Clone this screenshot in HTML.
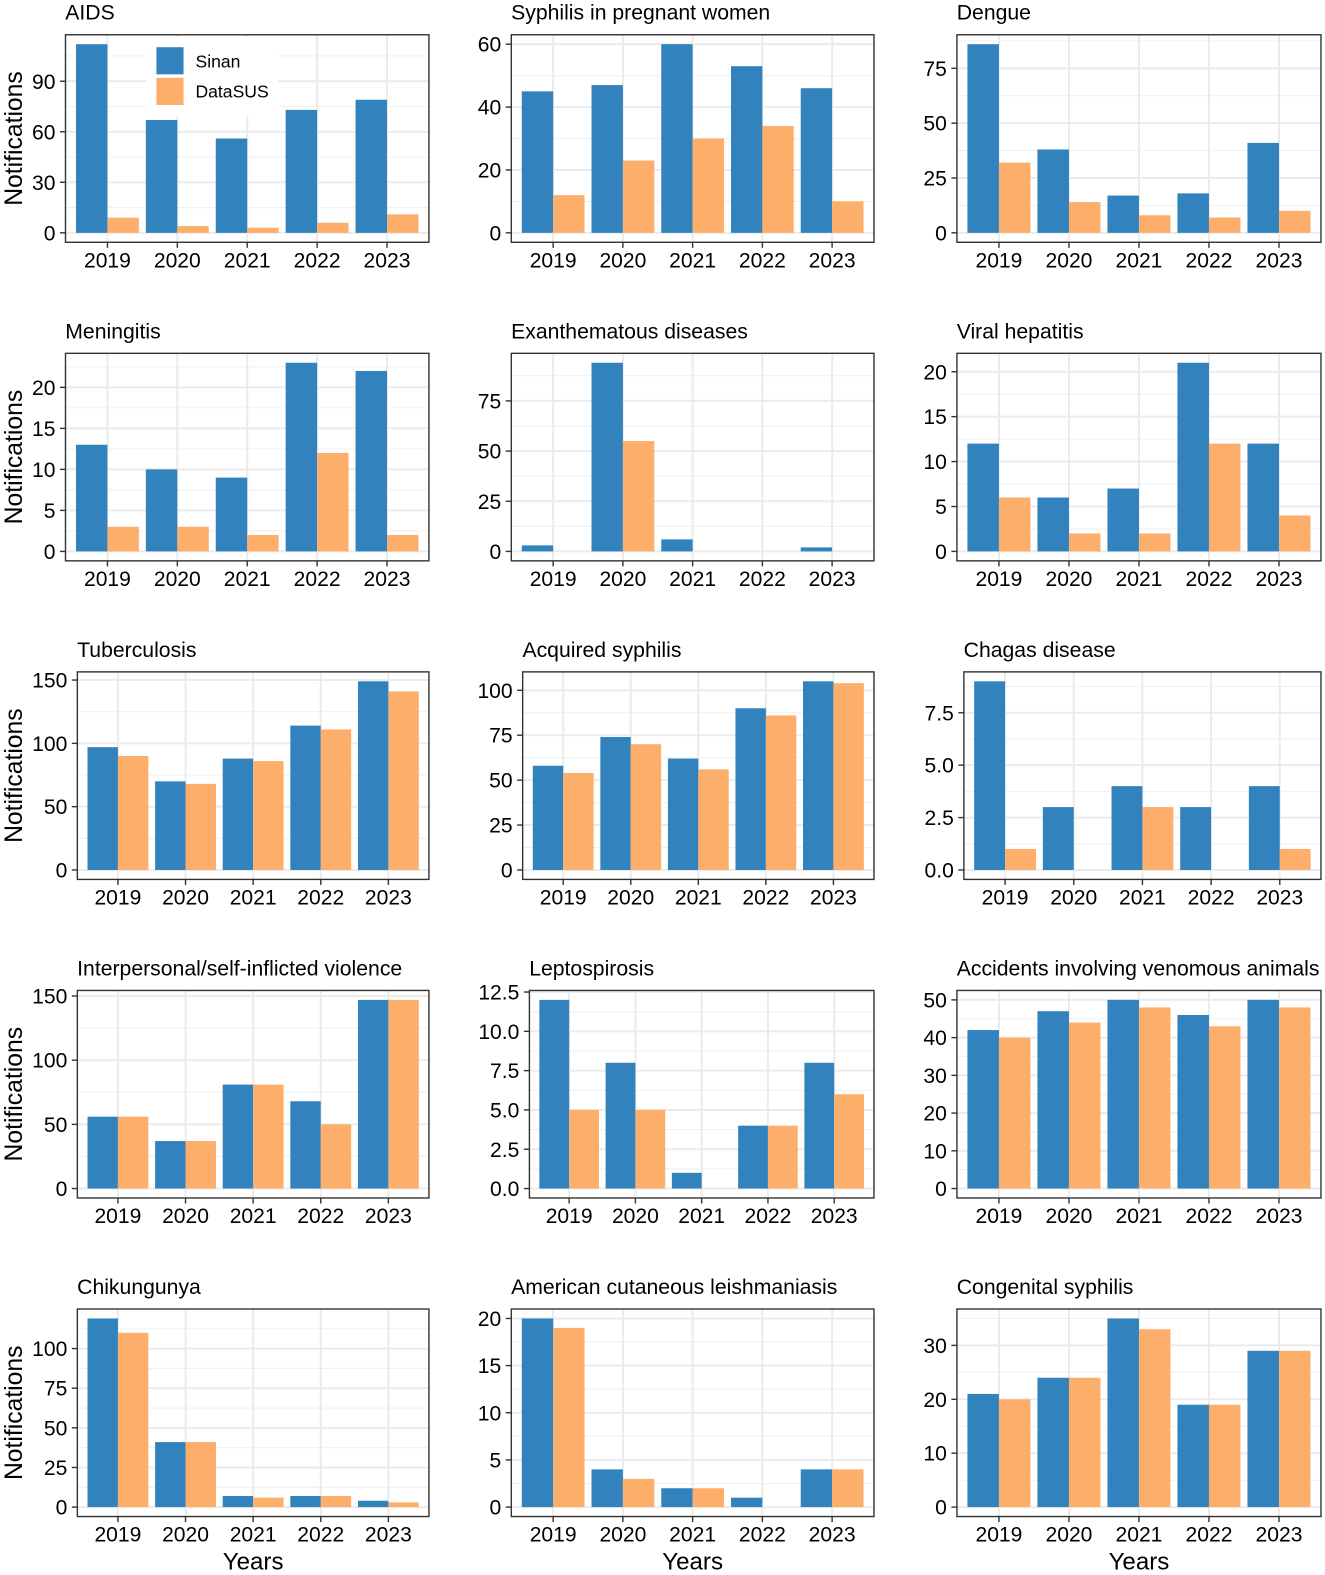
<!DOCTYPE html>
<html lang="en">
<head>
<meta charset="utf-8">
<title>Notifications by disease, Sinan vs DataSUS</title>
<style>
html,body{margin:0;padding:0;background:#fff;width:1325px;height:1575px;overflow:hidden}
svg{display:block}
text{font-family:"Liberation Sans",Arial,sans-serif;fill:#000}
</style>
</head>
<body>
<svg id="chart" xmlns="http://www.w3.org/2000/svg" width="1325" height="1575" viewBox="0 0 1319 1568" preserveAspectRatio="none"></svg>
<script>
const categories = ['2019','2020','2021','2022','2023'];

const aidsSinan = [112,67,56,73,79];
const aidsDatasus = [9,4,3,6,11];
const aidsTicks = ['0','30','60','90'];

const syphilisPregnantSinan = [45,47,60,53,46];
const syphilisPregnantDatasus = [12,23,30,34,10];
const syphilisPregnantTicks = ['0','20','40','60'];

const dengueSinan = [86,38,17,18,41];
const dengueDatasus = [32,14,8,7,10];
const dengueTicks = ['0','25','50','75'];

const meningitisSinan = [13,10,9,23,22];
const meningitisDatasus = [3,3,2,12,2];
const meningitisTicks = ['0','5','10','15','20'];

const exanthematousSinan = [3,94,6,0,2];
const exanthematousDatasus = [0,55,0,0,0];
const exanthematousTicks = ['0','25','50','75'];

const hepatitisSinan = [12,6,7,21,12];
const hepatitisDatasus = [6,2,2,12,4];
const hepatitisTicks = ['0','5','10','15','20'];

const tuberculosisSinan = [97,70,88,114,149];
const tuberculosisDatasus = [90,68,86,111,141];
const tuberculosisTicks = ['0','50','100','150'];

const acquiredSinan = [58,74,62,90,105];
const acquiredDatasus = [54,70,56,86,104];
const acquiredTicks = ['0','25','50','75','100'];

const chagasSinan = [9,3,4,3,4];
const chagasDatasus = [1,0,3,0,1];
const chagasTicks = ['0.0','2.5','5.0','7.5'];

const violenceSinan = [56,37,81,68,147];
const violenceDatasus = [56,37,81,50,147];
const violenceTicks = ['0','50','100','150'];

const leptospirosisSinan = [12,8,1,4,8];
const leptospirosisDatasus = [5,5,0,4,6];
const leptospirosisTicks = ['0.0','2.5','5.0','7.5','10.0','12.5'];

const venomousSinan = [42,47,50,46,50];
const venomousDatasus = [40,44,48,43,48];
const venomousTicks = ['0','10','20','30','40','50'];

const chikungunyaSinan = [119,41,7,7,4];
const chikungunyaDatasus = [110,41,6,7,3];
const chikungunyaTicks = ['0','25','50','75','100'];

const leishmaniasisSinan = [20,4,2,1,4];
const leishmaniasisDatasus = [19,3,2,0,4];
const leishmaniasisTicks = ['0','5','10','15','20'];

const congenitalSinan = [21,24,35,19,29];
const congenitalDatasus = [20,24,33,19,29];
const congenitalTicks = ['0','10','20','30'];

const svg = document.getElementById('chart');
const NS = 'http://www.w3.org/2000/svg';
const BLUE = '#3182bd';
const ORANGE = '#fdae6b';
const GRID = '#ebebeb';
const INK = '#333333';
const PANEL_RIGHT = [427, 870, 1315];
const TOP0 = 34.6, PANEL_H = 206.6, ROW_STEP = 317.15;

function make(tag, attrs, parent) {
  const el = document.createElementNS(NS, tag);
  for (const k in attrs) el.setAttribute(k, attrs[k]);
  (parent || svg).appendChild(el);
  return el;
}
function slug(s) {
  return s.toLowerCase().replace(/[^a-z0-9]+/g, '-').replace(/^-|-$/g, '');
}

function drawPanel(p) {
  const key = slug(p.title);
  const g = make('g', {});
  
  

  const x0 = p.left, x1 = PANEL_RIGHT[p.col];
  const y0 = TOP0 + p.row * ROW_STEP, y1 = y0 + PANEL_H;
  const w = x1 - x0, h = y1 - y0;

  // axis functions: ggplot-like discrete x (0.6 expansion), continuous y (5% expansion)
  const unit = w / (categories.length - 1 + 1.2);
  const xPos = i => x0 + (i + 0.6) * unit;
  const maxV = Math.max(...p.sinan, ...p.datasus);
  const yPos = v => y1 - (v + 0.05 * maxV) / (1.1 * maxV) * h;
  const barW = 0.45 * unit;

  // title
  const title = make('text', {x: x0 - 0.2, y: y0 - 15, 'font-size': 21.1}, g);
  
  
  title.textContent = p.title;

  // background grid
  const tickVals = p.ticks.map(Number);
  const step = tickVals[1] - tickVals[0];
  const minors = tickVals.map(t => t + step / 2);
  minors.unshift(tickVals[0] - step / 2);
  minors.forEach(m => {
    const y = yPos(m);
    if (y < y0 || y > y1) return;
    const l = make('line', {x1: x0, x2: x1, y1: y, y2: y, stroke: '#f0f0f0', 'stroke-width': 1.1}, g);
    
    
  });
  tickVals.forEach(t => {
    const l = make('line', {x1: x0, x2: x1, y1: yPos(t), y2: yPos(t), stroke: GRID, 'stroke-width': 2}, g);
    
    
  });
  categories.forEach((c, i) => {
    const l = make('line', {x1: xPos(i), x2: xPos(i), y1: y0, y2: y1, stroke: GRID, 'stroke-width': 2}, g);
    
    
  });

  // bars
  categories.forEach((c, i) => {
    const vs = p.sinan[i], vd = p.datasus[i];
    const a = make('rect', {x: xPos(i) - barW, y: yPos(vs), width: barW, height: Math.max(0, yPos(0) - yPos(vs)), fill: BLUE}, g);
    
    
    const b = make('rect', {x: xPos(i), y: yPos(vd), width: barW, height: Math.max(0, yPos(0) - yPos(vd)), fill: ORANGE}, g);
    
    
  });

  // legend
  if (p.legend) {
    const lg = make('g', {}, g);
    
    
    make('rect', {x: 146, y: y0 + 2, width: 131, height: 79, fill: '#fff'}, lg);
    const k1 = make('rect', {x: 155.7, y: 47, width: 27, height: 27, fill: BLUE}, lg);
    
    
    const k2 = make('rect', {x: 155.7, y: 77.5, width: 27, height: 27, fill: ORANGE}, lg);
    
    
    const t1 = make('text', {x: 194.6, y: 67, 'font-size': 17.5}, lg);
    
    
    t1.textContent = 'Sinan';
    const t2 = make('text', {x: 194.6, y: 97, 'font-size': 17.5}, lg);
    
    
    t2.textContent = 'DataSUS';
  }

  // panel border
  const border = make('rect', {x: x0, y: y0, width: w, height: h, fill: 'none', stroke: INK, 'stroke-width': 1.4}, g);
  
  

  // y axis
  p.ticks.forEach((label, i) => {
    const y = yPos(tickVals[i]);
    const t = make('line', {x1: x0 - 5.5, x2: x0, y1: y, y2: y, stroke: INK, 'stroke-width': 1.4}, g);
    
    
    const tx = make('text', {x: x0 - 10, y: y + 7.5, 'font-size': 21, 'text-anchor': 'end'}, g);
    
    
    tx.textContent = label;
  });

  // x axis
  categories.forEach((c, i) => {
    const t = make('line', {x1: xPos(i), x2: xPos(i), y1: y1, y2: y1 + 5.5, stroke: INK, 'stroke-width': 1.4}, g);
    
    
    const tx = make('text', {x: xPos(i), y: y1 + 25, 'font-size': 21, 'text-anchor': 'middle'}, g);
    
    
    tx.textContent = c;
  });

  // axis titles
  if (p.col === 0) {
    const cy = y0 + h / 2;
    const yt = make('text', {x: 22, y: cy, 'font-size': 24.6, 'text-anchor': 'middle', transform: 'rotate(-90 22 ' + cy + ')'}, g);
    
    
    yt.textContent = 'Notifications';
  }
  if (p.row === 4) {
    const xt = make('text', {x: x0 + w / 2, y: 1562.5, 'font-size': 24, 'text-anchor': 'middle'}, g);
    
    
    xt.textContent = 'Years';
  }
}

[
  {title:'AIDS', row:0, col:0, left:65.2, sinan:aidsSinan, datasus:aidsDatasus, ticks:aidsTicks, legend:true},
  {title:'Syphilis in pregnant women', row:0, col:1, left:509, sinan:syphilisPregnantSinan, datasus:syphilisPregnantDatasus, ticks:syphilisPregnantTicks},
  {title:'Dengue', row:0, col:2, left:952.6, sinan:dengueSinan, datasus:dengueDatasus, ticks:dengueTicks},
  {title:'Meningitis', row:1, col:0, left:65.2, sinan:meningitisSinan, datasus:meningitisDatasus, ticks:meningitisTicks},
  {title:'Exanthematous diseases', row:1, col:1, left:509, sinan:exanthematousSinan, datasus:exanthematousDatasus, ticks:exanthematousTicks},
  {title:'Viral hepatitis', row:1, col:2, left:952.6, sinan:hepatitisSinan, datasus:hepatitisDatasus, ticks:hepatitisTicks},
  {title:'Tuberculosis', row:2, col:0, left:77, sinan:tuberculosisSinan, datasus:tuberculosisDatasus, ticks:tuberculosisTicks},
  {title:'Acquired syphilis', row:2, col:1, left:520.3, sinan:acquiredSinan, datasus:acquiredDatasus, ticks:acquiredTicks},
  {title:'Chagas disease', row:2, col:2, left:959.5, sinan:chagasSinan, datasus:chagasDatasus, ticks:chagasTicks},
  {title:'Interpersonal/self-inflicted violence', row:3, col:0, left:77, sinan:violenceSinan, datasus:violenceDatasus, ticks:violenceTicks},
  {title:'Leptospirosis', row:3, col:1, left:527, sinan:leptospirosisSinan, datasus:leptospirosisDatasus, ticks:leptospirosisTicks},
  {title:'Accidents involving venomous animals', row:3, col:2, left:952.6, sinan:venomousSinan, datasus:venomousDatasus, ticks:venomousTicks},
  {title:'Chikungunya', row:4, col:0, left:77, sinan:chikungunyaSinan, datasus:chikungunyaDatasus, ticks:chikungunyaTicks},
  {title:'American cutaneous leishmaniasis', row:4, col:1, left:509, sinan:leishmaniasisSinan, datasus:leishmaniasisDatasus, ticks:leishmaniasisTicks},
  {title:'Congenital syphilis', row:4, col:2, left:952.6, sinan:congenitalSinan, datasus:congenitalDatasus, ticks:congenitalTicks}
].forEach(drawPanel);
</script>
</body>
</html>
